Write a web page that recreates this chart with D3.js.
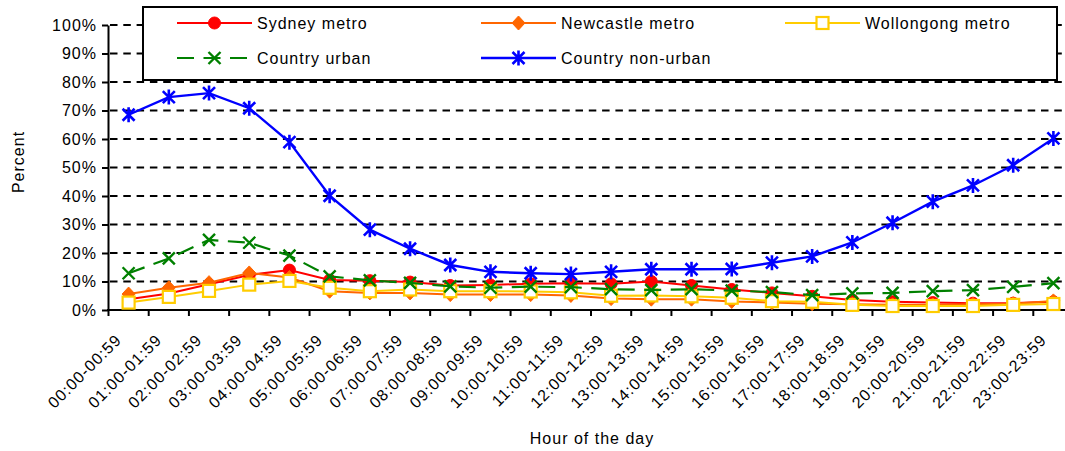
<!DOCTYPE html>
<html>
<head>
<meta charset="utf-8">
<script src="https://cdn.jsdelivr.net/npm/d3@7/dist/d3.min.js"></script>
<style>
  html, body { margin: 0; padding: 0; background: #fff; }
  svg text { font-family: "Liberation Sans", Arial, sans-serif; fill: #000; }
</style>
</head>
<body>
<svg id="chart" width="1065" height="451"></svg>
<script>
const categories = ["00:00-00:59","01:00-01:59","02:00-02:59","03:00-03:59","04:00-04:59","05:00-05:59",
  "06:00-06:59","07:00-07:59","08:00-08:59","09:00-09:59","10:00-10:59","11:00-11:59",
  "12:00-12:59","13:00-13:59","14:00-14:59","15:00-15:59","16:00-16:59","17:00-17:59",
  "18:00-18:59","19:00-19:59","20:00-20:59","21:00-21:59","22:00-22:59","23:00-23:59"];

const sydneyMetro = [3.8, 5.8, 9.0, 12.3, 14.0, 10.5, 10.3, 9.8, 8.6, 8.8, 9.2, 9.4, 9.2, 10.0, 8.6, 7.2, 6.0, 4.8, 3.5, 2.9, 2.6, 2.4, 2.4, 2.9];
const newcastleMetro = [5.6, 7.8, 9.6, 13.0, 11.4, 6.6, 6.0, 6.0, 5.4, 5.4, 5.4, 5.1, 4.0, 3.8, 3.8, 3.0, 2.6, 2.2, 2.0, 1.8, 1.8, 2.0, 2.2, 3.2];
const wollongongMetro = [2.6, 4.6, 6.7, 8.9, 10.2, 7.8, 6.6, 7.2, 6.6, 6.6, 6.5, 6.2, 5.0, 5.1, 4.8, 4.3, 3.1, 2.9, 1.8, 1.4, 1.4, 1.4, 1.8, 2.1];
const countryUrban = [12.9, 18.1, 24.6, 23.6, 19.1, 11.8, 10.4, 9.5, 8.3, 7.8, 8.2, 8.0, 7.3, 7.0, 7.3, 6.8, 6.3, 5.2, 5.8, 6.0, 6.6, 7.0, 8.1, 9.4];
const countryNonUrban = [68.5, 74.7, 76.1, 70.8, 58.9, 40.1, 28.2, 21.5, 15.8, 13.4, 12.9, 12.6, 13.4, 14.3, 14.3, 14.4, 16.6, 18.8, 23.7, 30.6, 38.0, 43.7, 50.8, 60.2];

const yTicks = [0, 10, 20, 30, 40, 50, 60, 70, 80, 90, 100];
const seriesNames = ["Sydney metro", "Newcastle metro", "Wollongong metro", "Country urban", "Country non-urban"];
const xTitle = "Hour of the day";
const yTitle = "Percent";

const series = [
  { name: seriesNames[0], values: sydneyMetro, color: "#FF0000", marker: "circle", dash: null, width: 2 },
  { name: seriesNames[1], values: newcastleMetro, color: "#FF6600", marker: "diamond", dash: null, width: 2 },
  { name: seriesNames[2], values: wollongongMetro, color: "#FFCC00", marker: "square", dash: null, width: 2 },
  { name: seriesNames[3], values: countryUrban, color: "#008000", marker: "x", dash: "17,9.5", width: 2.2 },
  { name: seriesNames[4], values: countryNonUrban, color: "#0000FF", marker: "star", dash: null, width: 2.4 }
];

const svg = d3.select("#chart");
const x = d3.scaleBand().domain(categories).range([108.5, 1073.5]).paddingInner(0).paddingOuter(0);
const y = d3.scaleLinear().domain([0, 100]).range([310, 25]);
const cx = c => x(c) + x.bandwidth() / 2;

// gridlines
svg.append("g").selectAll("line").data(yTicks.filter(d => d > 0)).join("line")
  .attr("x1", 110).attr("x2", 1065)
  .attr("y1", d => y(d)).attr("y2", d => y(d))
  .attr("stroke", "#000").attr("stroke-width", 2).attr("stroke-dasharray", "7.5,5.8");

// y axis
const yAxis = d3.axisLeft(y).tickValues(yTicks).tickFormat(d => d + "%").tickSizeInner(6).tickSizeOuter(0).tickPadding(5);
const gy = svg.append("g").attr("transform", "translate(108,0)").call(yAxis);
gy.select(".domain").attr("stroke", "#000").attr("stroke-width", 2);
gy.selectAll(".tick line").attr("stroke", "#000").attr("stroke-width", 2);
gy.selectAll(".tick text").style("font-size", "16px").style("letter-spacing", "1px").attr("fill", "#000");

// x axis
const xAxis = d3.axisBottom(x).tickSize(0).tickFormat("");
const gx = svg.append("g").attr("transform", "translate(0,310)").call(xAxis);
gx.select(".domain").remove();
gx.append("line").attr("x1", 107).attr("x2", 1065).attr("y1", 0).attr("y2", 0).attr("stroke", "#000").attr("stroke-width", 2);
gx.append("g").selectAll("line").data(categories).join("line")
  .attr("x1", d => x(d)).attr("x2", d => x(d)).attr("y1", 0).attr("y2", 6)
  .attr("stroke", "#000").attr("stroke-width", 2);
gx.append("g").selectAll("text").data(categories).join("text")
  .attr("transform", d => `translate(${cx(d) - 6},${31}) rotate(-45)`)
  .attr("text-anchor", "end")
  .style("font-size", "16px").style("letter-spacing", "1px")
  .text(d => d);

// titles
svg.append("text").attr("x", 592).attr("y", 444).attr("text-anchor", "middle")
  .style("font-size", "16px").style("letter-spacing", "1px").text(xTitle);
svg.append("text").attr("transform", "translate(24,162) rotate(-90)").attr("text-anchor", "middle")
  .style("font-size", "16px").style("letter-spacing", "1px").text(yTitle);

// markers
function drawMarker(g, type, color) {
  if (type === "circle") {
    g.append("circle").attr("r", 6).attr("fill", color).attr("stroke", color).attr("stroke-width", 1);
  } else if (type === "diamond") {
    g.append("path").attr("d", "M0,-7L6.5,0L0,7L-6.5,0Z").attr("fill", color).attr("stroke", color).attr("stroke-width", 1);
  } else if (type === "square") {
    g.append("rect").attr("x", -6).attr("y", -6).attr("width", 12).attr("height", 12)
      .attr("fill", "#fff").attr("stroke", color).attr("stroke-width", 2.2);
  } else if (type === "x") {
    g.append("path").attr("d", "M-6,-6L6,6M-6,6L6,-6").attr("stroke", color).attr("stroke-width", 2.4).attr("fill", "none");
  } else if (type === "star") {
    g.append("path").attr("d", "M-6,-6L6,6M-6,6L6,-6M0,-7.5L0,7.5").attr("stroke", color).attr("stroke-width", 2.6).attr("fill", "none");
  }
}

const line = d3.line().x((d, i) => cx(categories[i])).y(d => y(d));
series.forEach(s => {
  const g = svg.append("g");
  g.append("path").datum(s.values).attr("d", line)
    .attr("fill", "none").attr("stroke", s.color).attr("stroke-width", s.width)
    .attr("stroke-dasharray", s.dash);
  g.selectAll("g.m").data(s.values).join("g").attr("class", "m")
    .attr("transform", (d, i) => `translate(${cx(categories[i])},${y(d)})`)
    .each(function () { drawMarker(d3.select(this), s.marker, s.color); });
});

// legend
const legend = svg.append("g");
legend.append("rect").attr("x", 143).attr("y", 7).attr("width", 914).attr("height", 73)
  .attr("fill", "#fff").attr("stroke", "#000").attr("stroke-width", 2);
const legPos = [[177, 23], [481, 23], [785, 23], [177, 58], [481, 58]];
series.forEach((s, i) => {
  const [lx, ly] = legPos[i];
  const g = legend.append("g");
  g.append("line").attr("x1", lx).attr("x2", lx + 75).attr("y1", ly).attr("y2", ly)
    .attr("stroke", s.color).attr("stroke-width", s.width).attr("stroke-dasharray", s.dash);
  const mg = g.append("g").attr("transform", `translate(${lx + 37.5},${ly})`);
  drawMarker(mg, s.marker, s.color);
  g.append("text").attr("x", lx + 80).attr("y", ly + 6).style("font-size", "16px").style("letter-spacing", "1px").text(s.name);
});
</script>
</body>
</html>
